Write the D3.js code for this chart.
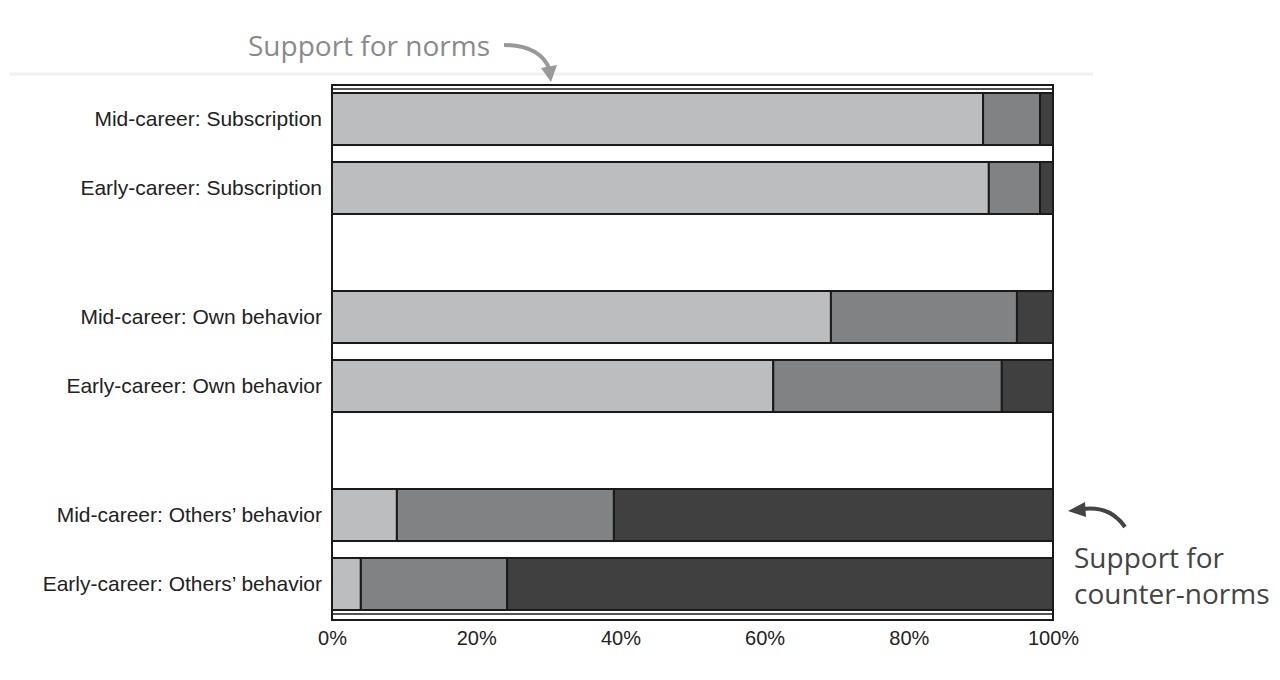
<!DOCTYPE html>
<html><head><meta charset="utf-8">
<script src="https://cdn.jsdelivr.net/npm/d3@7"></script>
<style>body{margin:0;background:#fff}</style>
</head><body><div id="chart"></div>
<script>
const width = 1280, height = 680;

// Data
const groups = ["Subscription", "Own behavior", "Others' behavior"];
const stages = ["Mid-career", "Early-career"];
const labels = [
  "Mid-career: Subscription", "Early-career: Subscription",
  "Mid-career: Own behavior", "Early-career: Own behavior",
  "Mid-career: Others\u2019 behavior", "Early-career: Others\u2019 behavior"
];
const supportNorms = [90.3, 91.1, 69.2, 61.2, 9.0, 4.0];
const neutral      = [7.9, 7.1, 25.8, 31.7, 30.1, 20.3];
const counterNorms = [1.8, 1.8, 5.0, 7.1, 60.9, 75.7];
const ticks = [0, 20, 40, 60, 80, 100];

const colors = ["#bcbdbf", "#818284", "#404041"];

const svg = d3.select("#chart").append("svg")
  .attr("width", width).attr("height", height);

const x = d3.scaleLinear().domain([0, 100]).range([332, 1053]);
const yGroup = d3.scaleBand().domain(groups).range([93, 687]);
const yInner = d3.scaleBand().domain(stages).range([0, 121]).paddingInner(0.246);

const rows = labels.map((l, i) => ({
  label: l,
  group: groups[Math.floor(i / 2)],
  stage: stages[i % 2],
  vals: [supportNorms[i], neutral[i], counterNorms[i]]
}));

// faint rule
svg.append("line").attr("x1", 10).attr("x2", 1093).attr("y1", 74).attr("y2", 74)
  .attr("stroke", "#f0f0f0").attr("stroke-width", 3);

// frame
svg.append("rect").attr("x", x(0)).attr("y", 85).attr("width", x(100) - x(0)).attr("height", 535)
  .attr("fill", "none").attr("stroke", "#1a1a1a").attr("stroke-width", 2);
svg.append("line").attr("x1", x(0)).attr("x2", x(100)).attr("y1", 89).attr("y2", 89)
  .attr("stroke", "#1a1a1a").attr("stroke-width", 1.5);
svg.append("line").attr("x1", x(0)).attr("x2", x(100)).attr("y1", 614).attr("y2", 614)
  .attr("stroke", "#1a1a1a").attr("stroke-width", 1.5);

const rowG = svg.selectAll("g.row").data(rows).enter().append("g")
  .attr("transform", d => `translate(0,${yGroup(d.group) + yInner(d.stage)})`);

rowG.selectAll("rect").data(d => {
  let acc = 0;
  return d.vals.map((v, k) => { const s = acc; acc += v; return {s, e: acc, k}; });
}).enter().append("rect")
  .attr("x", d => x(d.s)).attr("width", d => x(d.e) - x(d.s))
  .attr("y", 0).attr("height", yInner.bandwidth())
  .attr("fill", d => colors[d.k])
  .attr("stroke", "#1a1a1a").attr("stroke-width", 2);

rowG.append("text").attr("x", 322).attr("y", yInner.bandwidth() / 2).attr("dy", "0.35em")
  .attr("text-anchor", "end").attr("font-family", "Liberation Sans, Arial, sans-serif")
  .attr("font-size", 21).attr("fill", "#222").text(d => d.label);

// x axis
const xAxis = svg.append("g").attr("transform", "translate(0,620)")
  .call(d3.axisBottom(x).tickValues(ticks).tickSize(0).tickFormat(d => d + "%"));
xAxis.select(".domain").remove();
xAxis.selectAll("text").attr("dy", "1.1em")
  .attr("font-family", "Liberation Sans, Arial, sans-serif").attr("font-size", 20).attr("fill", "#222");

// annotations
svg.append("text").attr("x", 248).attr("y", 56).attr("font-family", "Open Sans, Noto Sans, sans-serif")
  .attr("font-size", 28).attr("fill", "#8a8a8a").text("Support for norms");
svg.append("path").attr("d", "M504,45 Q540,45 550,70").attr("fill", "none")
  .attr("stroke", "#999").attr("stroke-width", 4);
svg.append("path").attr("d", "M541,68 L551,82 L557,65 Z").attr("fill", "#999");

svg.append("text").attr("font-family", "Open Sans, Noto Sans, sans-serif")
  .attr("font-size", 28).attr("fill", "#444")
  .selectAll("tspan").data(["Support for", "counter-norms"]).enter().append("tspan")
  .attr("x", 1074).attr("y", (d, i) => 568 + i * 36).text(d => d);
svg.append("path").attr("d", "M1125,527 Q1110,505 1082,509").attr("fill", "none")
  .attr("stroke", "#444").attr("stroke-width", 4);
svg.append("path").attr("d", "M1085,502 L1068,511 L1086,517 Z").attr("fill", "#444");
</script></body></html>
